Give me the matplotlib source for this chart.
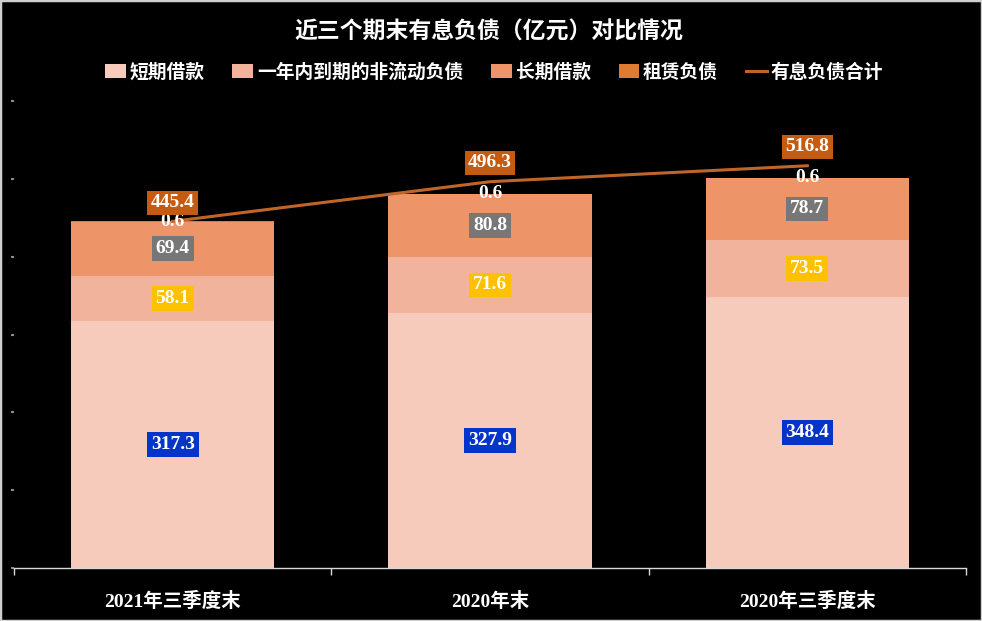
import matplotlib
matplotlib.use("Agg")
import matplotlib.pyplot as plt
from matplotlib.patches import Rectangle
from matplotlib.lines import Line2D
import numpy as np

categories = ["2021年三季度末", "2020年末", "2020年三季度末"]
short_term = [317.3, 327.9, 348.4]
current_noncurrent = [58.1, 71.6, 73.5]
long_term = [69.4, 80.8, 78.7]
lease = [0.6, 0.6, 0.6]
total = [445.4, 496.3, 516.8]

series_names = ["短期借款", "一年内到期的非流动负债", "长期借款", "租赁负债"]
line_name = "有息负债合计"
title = "近三个期末有息负债（亿元）对比情况"

bar_colors = ["#F6CBBC", "#F1B39B", "#EE9469", "#E07B32"]
label_boxes = ["#0535C8", "#FFC000", "#777777", None]
line_color = "#C0652A"
total_box = "#C55A11"

cjk = ["Noto Sans CJK SC", "DejaVu Sans"]
serif_mix = ["Liberation Serif", "Noto Sans CJK SC"]
plt.rcParams["font.family"] = cjk

fig = plt.figure(figsize=(9.82, 6.21), dpi=100, facecolor="black")
ax = fig.add_axes([0.0143, 0.0853, 0.9694, 0.7521])
ax.set_facecolor("black")

x = np.arange(len(categories))
width = 0.64
series = [short_term, current_noncurrent, long_term, lease]
bottom = np.zeros(len(categories))
handles = []
for vals, col, name, box in zip(series, bar_colors, series_names, label_boxes):
    vals = np.array(vals)
    ax.bar(x, vals, width, bottom=bottom, color=col, edgecolor="none", zorder=2)
    handles.append(Rectangle((0, 0), 1, 1, fc=col, ec="none", label=name))
    for i in range(len(x)):
        if box is not None:
            ax.text(x[i], bottom[i] + vals[i] / 2, f"{vals[i]:.1f}", ha="center", va="center",
                    color="white", fontsize=14, fontweight="bold", family=serif_mix,
                    bbox=dict(boxstyle="square,pad=0.2", fc=box, ec="none"), zorder=5)
        else:
            ax.text(x[i], bottom[i] + vals[i], f"{vals[i]:.1f}", ha="center", va="center",
                    color="white", fontsize=14, fontweight="bold", family=serif_mix, zorder=5)
    bottom = bottom + vals

ax.plot(x, total, color=line_color, lw=2.2, zorder=4)
handles.append(Line2D([0], [0], color=line_color, lw=2.2, label=line_name))
for i in range(len(x)):
    ax.annotate(f"{total[i]:.1f}", (x[i], total[i]), xytext=(0, 13.5), textcoords="offset points",
                ha="center", va="center", color="white", fontsize=14, fontweight="bold",
                family=serif_mix, bbox=dict(boxstyle="square,pad=0.18", fc=total_box, ec="none"),
                zorder=6)

ax.set_xlim(-0.5, len(categories) - 0.5)
ax.set_ylim(0, 600)
ax.set_yticks(np.arange(0, 601, 100))
ax.set_yticklabels([])
ax.tick_params(axis="y", length=2, color="#8C8C8C", width=1.5, pad=0)
ax.set_xticks(x)
ax.set_xticklabels(categories, color="white", fontsize=14, fontweight="bold", family=serif_mix)
ax.tick_params(axis="x", which="major", length=0, pad=17)
ax.set_xticks(np.arange(-0.5, len(categories), 1.0), minor=True)
ax.tick_params(axis="x", which="minor", length=5, color="#D9D9D9", width=1)
for s in ["top", "right", "left"]:
    ax.spines[s].set_visible(False)
ax.spines["bottom"].set_color("#D9D9D9")
ax.spines["bottom"].set_linewidth(1)

fig.text(0.498, 0.948, title, ha="center", va="center", color="white", fontsize=16.5,
         fontweight="bold", family=cjk)

leg = fig.legend(handles=handles, loc="center", bbox_to_anchor=(0.503, 0.884), ncol=5,
                 frameon=False, handlelength=1.1, handleheight=0.8,
                 handletextpad=0.2, columnspacing=1.5, prop=dict(family=cjk, weight="bold", size=13.5))
for t in leg.get_texts():
    t.set_color("white")

fig.patches.append(Rectangle((0, 0), 1, 1, transform=fig.transFigure, fill=False,
                             ec="#D0D0D0", lw=2.5, zorder=10))

fig.savefig("out.png", dpi=100, facecolor="black")
